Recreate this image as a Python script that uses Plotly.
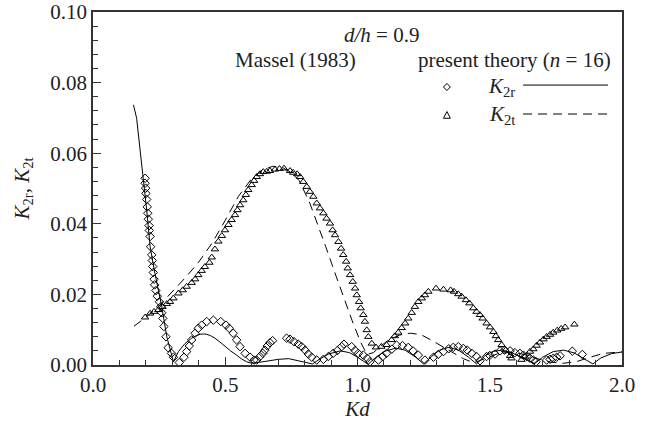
import plotly.graph_objects as go

# ---- Massel (1983) K2r (diamonds) ----
massel_r_kd = [0.197, 0.197, 0.199, 0.200, 0.203, 0.205, 0.207, 0.209, 0.212, 0.213, 0.216, 0.218,
               0.222, 0.224, 0.226, 0.228, 0.231, 0.233, 0.238, 0.243, 0.251, 0.256, 0.260, 0.264,
               0.268, 0.276, 0.284, 0.297, 0.304, 0.326, 0.344, 0.354, 0.364, 0.373, 0.386, 0.398,
               0.411, 0.430, 0.455, 0.483, 0.503, 0.515, 0.530, 0.543, 0.556, 0.575, 0.594, 0.609,
               0.619, 0.631, 0.642, 0.650, 0.659, 0.669, 0.679, 0.732, 0.745, 0.760, 0.776, 0.789,
               0.802, 0.814, 0.827, 0.846, 0.871, 0.890, 0.908, 0.924, 0.940, 0.949, 0.978, 0.991,
               1.003, 1.022, 1.037, 1.047, 1.079, 1.095, 1.110, 1.130, 1.148, 1.170, 1.192, 1.210,
               1.230, 1.255, 1.287, 1.305, 1.325, 1.345, 1.362, 1.381, 1.400, 1.415, 1.432, 1.450,
               1.463, 1.488, 1.500, 1.520, 1.539, 1.556, 1.577, 1.595, 1.614, 1.627, 1.640, 1.652,
               1.665, 1.675, 1.715, 1.728, 1.740, 1.753, 1.766, 1.812, 1.850]
massel_r_k = [0.0529, 0.0515, 0.0501, 0.0486, 0.0469, 0.0448, 0.0430, 0.0413, 0.0395, 0.0381, 0.0364, 0.0335,
              0.0312, 0.0296, 0.0279, 0.0262, 0.0243, 0.0227, 0.0211, 0.0195, 0.0179, 0.0165, 0.0148, 0.0132,
              0.0109, 0.0080, 0.0049, 0.0033, 0.0022, 0.0007, 0.0022, 0.0038, 0.0054, 0.0071, 0.0090, 0.0104,
              0.0113, 0.0123, 0.0127, 0.0123, 0.0113, 0.0104, 0.0090, 0.0071, 0.0052, 0.0033, 0.0022, 0.0014,
              0.0014, 0.0024, 0.0033, 0.0042, 0.0054, 0.0063, 0.0069, 0.0076, 0.0073, 0.0066, 0.0059, 0.0052,
              0.0042, 0.0031, 0.0022, 0.0014, 0.0016, 0.0024, 0.0033, 0.0041, 0.0052, 0.0059, 0.0052, 0.0041,
              0.0033, 0.0028, 0.0019, 0.0009, 0.0014, 0.0024, 0.0033, 0.0045, 0.0056, 0.0055, 0.0050, 0.0040,
              0.0028, 0.0014, 0.0022, 0.0030, 0.0038, 0.0046, 0.0050, 0.0052, 0.0047, 0.0042, 0.0033, 0.0024,
              0.0012, 0.0024, 0.0027, 0.0031, 0.0040, 0.0042, 0.0040, 0.0035, 0.0033, 0.0028, 0.0024, 0.0019,
              0.0014, 0.0009, 0.0014, 0.0016, 0.0019, 0.0022, 0.0026, 0.0039, 0.0030]

# ---- Massel (1983) K2t (triangles) ----
massel_t_kd = [0.197, 0.216, 0.231, 0.247, 0.263, 0.279, 0.291, 0.304, 0.323, 0.339, 0.354, 0.373,
               0.386, 0.398, 0.411, 0.423, 0.440, 0.449, 0.461, 0.474, 0.487, 0.499, 0.512, 0.524,
               0.537, 0.546, 0.556, 0.568, 0.578, 0.587, 0.600, 0.609, 0.619, 0.631, 0.644, 0.657,
               0.669, 0.688, 0.705, 0.722, 0.745, 0.757, 0.772, 0.783, 0.795, 0.808, 0.820, 0.833,
               0.846, 0.858, 0.871, 0.883, 0.896, 0.906, 0.915, 0.928, 0.938, 0.946, 0.957, 0.963,
               0.972, 0.982, 0.991, 0.997, 1.006, 1.012, 1.022, 1.028, 1.035, 1.041, 1.054, 1.070,
               1.090, 1.110, 1.129, 1.141, 1.154, 1.167, 1.180, 1.192, 1.205, 1.217, 1.230, 1.243,
               1.255, 1.268, 1.297, 1.325, 1.352, 1.365, 1.381, 1.394, 1.410, 1.423, 1.438, 1.450,
               1.463, 1.473, 1.488, 1.501, 1.514, 1.523, 1.532, 1.545, 1.560, 1.577, 1.582, 1.620,
               1.633, 1.652, 1.665, 1.677, 1.690, 1.703, 1.715, 1.728, 1.740, 1.755, 1.770, 1.785, 1.820]
massel_t_k = [0.0135, 0.0146, 0.0151, 0.0156, 0.0165, 0.0173, 0.0179, 0.0189, 0.0203, 0.0212, 0.0222, 0.0233,
              0.0243, 0.0255, 0.0267, 0.0278, 0.0290, 0.0305, 0.0328, 0.0350, 0.0366, 0.0382, 0.0397, 0.0411,
              0.0425, 0.0439, 0.0453, 0.0467, 0.0482, 0.0496, 0.0510, 0.0522, 0.0533, 0.0541, 0.0547, 0.0548,
              0.0550, 0.0554, 0.0556, 0.0557, 0.0550, 0.0545, 0.0541, 0.0533, 0.0519, 0.0505, 0.0491, 0.0477,
              0.0458, 0.0444, 0.0430, 0.0415, 0.0401, 0.0382, 0.0368, 0.0349, 0.0330, 0.0312, 0.0293, 0.0274,
              0.0255, 0.0236, 0.0217, 0.0198, 0.0179, 0.0161, 0.0142, 0.0123, 0.0099, 0.0080, 0.0061, 0.0050,
              0.0052, 0.0057, 0.0071, 0.0082, 0.0092, 0.0105, 0.0118, 0.0132, 0.0148, 0.0165, 0.0179, 0.0189,
              0.0198, 0.0208, 0.0217, 0.0214, 0.0212, 0.0208, 0.0201, 0.0194, 0.0184, 0.0175, 0.0161, 0.0151,
              0.0142, 0.0132, 0.0118, 0.0107, 0.0094, 0.0082, 0.0071, 0.0057, 0.0042, 0.0026, 0.0019, 0.0015,
              0.0024, 0.0038, 0.0045, 0.0055, 0.0064, 0.0073, 0.0080, 0.0086, 0.0092, 0.0098, 0.0103, 0.0107, 0.0115]

# ---- present theory (n = 16) K2r (solid) ----
theory_r_kd = [0.153, 0.165, 0.178, 0.190, 0.203, 0.216, 0.234, 0.260, 0.279, 0.304, 0.315, 0.323,
               0.348, 0.373, 0.390, 0.405, 0.418, 0.430, 0.445, 0.461, 0.480, 0.499, 0.520, 0.543,
               0.560, 0.581, 0.600, 0.650, 0.700, 0.740, 0.780, 0.830, 0.860, 0.890, 0.935, 0.970,
               1.000, 1.040, 1.070, 1.100, 1.145, 1.180, 1.220, 1.250, 1.280, 1.310, 1.345, 1.380,
               1.420, 1.450, 1.480, 1.510, 1.545, 1.580, 1.630, 1.670, 1.700, 1.740, 1.780, 1.820,
               1.860, 1.890, 1.920, 1.960, 2.000]
theory_r_k = [0.0737, 0.0699, 0.0609, 0.0533, 0.0439, 0.0335, 0.0260, 0.0165, 0.0080, 0.0009, 0.0025, 0.0038,
              0.0061, 0.0076, 0.0083, 0.0087, 0.0088, 0.0087, 0.0083, 0.0076, 0.0065, 0.0052, 0.0040, 0.0028,
              0.0018, 0.0009, 0.0005, 0.0010, 0.0016, 0.0018, 0.0012, 0.0003, 0.0018, 0.0031, 0.0040, 0.0035,
              0.0022, 0.0002, 0.0022, 0.0038, 0.0048, 0.0042, 0.0022, 0.0003, 0.0024, 0.0042, 0.0050, 0.0043,
              0.0022, 0.0003, 0.0025, 0.0038, 0.0042, 0.0036, 0.0018, 0.0004, 0.0022, 0.0038, 0.0042, 0.0034,
              0.0016, 0.0003, 0.0020, 0.0032, 0.0037]

# ---- present theory (n = 16) K2t (dashed) ----
theory_t_kd = [0.155, 0.200, 0.250, 0.300, 0.350, 0.400, 0.450, 0.500, 0.550, 0.600, 0.640, 0.680,
               0.720, 0.750, 0.780, 0.820, 0.850, 0.880, 0.920, 0.950, 0.980, 1.010, 1.035, 1.060,
               1.090, 1.120, 1.160, 1.200, 1.240, 1.280, 1.320, 1.360, 1.400, 1.440, 1.480, 1.530,
               1.580, 1.630, 1.680, 1.730, 1.780, 1.830, 1.880, 1.930, 2.000]
theory_t_k = [0.0110, 0.0135, 0.0168, 0.0208, 0.0248, 0.0292, 0.0345, 0.0410, 0.0478, 0.0528, 0.0553, 0.0563,
              0.0558, 0.0545, 0.0522, 0.0458, 0.0398, 0.0335, 0.0250, 0.0185, 0.0125, 0.0068, 0.0030, 0.0035,
              0.0055, 0.0072, 0.0085, 0.0090, 0.0086, 0.0070, 0.0052, 0.0035, 0.0018, 0.0006, 0.0018, 0.0032,
              0.0036, 0.0030, 0.0018, 0.0008, 0.0005, 0.0010, 0.0022, 0.0033, 0.0037]

FONT = "Liberation Serif"
FS = 21

fig = go.Figure()
fig.add_trace(go.Scatter(x=theory_r_kd, y=theory_r_k, mode="lines",
                         line=dict(color="black", width=1), showlegend=False))
fig.add_trace(go.Scatter(x=theory_t_kd, y=theory_t_k, mode="lines",
                         line=dict(color="black", width=1, dash="9px,6px"), showlegend=False))
fig.add_trace(go.Scatter(x=massel_r_kd, y=massel_r_k, mode="markers",
                         marker=dict(symbol="diamond-open", size=6.5, color="black",
                                     line=dict(width=1, color="black")), showlegend=False))
fig.add_trace(go.Scatter(x=massel_t_kd, y=massel_t_k, mode="markers",
                         marker=dict(symbol="triangle-up-open", size=6.5, color="black",
                                     line=dict(width=1, color="black")), showlegend=False))

axis_common = dict(showline=True, linecolor="#333", linewidth=1.5, mirror=True,
                   ticks="inside", ticklen=8, tickcolor="#333", tickwidth=1.2,
                   showgrid=False, zeroline=False, automargin=False,
                   tickfont=dict(family=FONT, size=FS, color="#222"))

fig.update_xaxes(range=[0, 2], dtick=0.5, tick0=0, tickformat=".1f",
                 minor=dict(dtick=0.1, ticks="inside", ticklen=5, tickcolor="#333"),
                 title=dict(text="<i>Kd</i>", font=dict(family=FONT, size=FS, color="#222"), standoff=4),
                 **axis_common)
fig.update_yaxes(range=[0, 0.1], dtick=0.02, tick0=0, tickformat=".2f",
                 minor=dict(dtick=0.004, ticks="inside", ticklen=5, tickcolor="#333"),
                 title=dict(text="<i>K</i><sub>2r</sub>, <i>K</i><sub>2t</sub>",
                            font=dict(family=FONT, size=FS, color="#222"), standoff=15),
                 **axis_common)

tf = dict(family=FONT, size=FS, color="#222")
annos = [
    dict(x=0.545, y=0.935, text="<i>d/h</i> = 0.9"),
    dict(x=0.382, y=0.864, text="Massel (1983)"),
    dict(x=0.796, y=0.864, text="present theory (<i>n</i> = 16)"),
    dict(x=0.773, y=0.788, text="<i>K</i><sub>2r</sub>"),
    dict(x=0.773, y=0.708, text="<i>K</i><sub>2t</sub>"),
]
for a in annos:
    fig.add_annotation(xref="paper", yref="paper", x=a["x"], y=a["y"], text=a["text"],
                       showarrow=False, font=tf, xanchor="center", yanchor="middle")

# legend keys (paper coordinates)
cx, dx = 0.669, 0.0065
cy_r, dy = 0.7875, 0.010
cy_t = 0.708
fig.add_shape(type="path", xref="paper", yref="paper",
              path=f"M {cx-dx} {cy_r} L {cx} {cy_r+dy} L {cx+dx} {cy_r} L {cx} {cy_r-dy} Z",
              line=dict(color="black", width=1))
fig.add_shape(type="path", xref="paper", yref="paper",
              path=f"M {cx-dx} {cy_t-0.009} L {cx} {cy_t+0.010} L {cx+dx} {cy_t-0.009} Z",
              line=dict(color="black", width=1))
fig.add_shape(type="line", xref="paper", yref="paper", x0=0.813, x1=0.9735, y0=0.793, y1=0.793,
              line=dict(color="black", width=1))
fig.add_shape(type="line", xref="paper", yref="paper", x0=0.813, x1=0.9735, y0=0.711, y1=0.711,
              line=dict(color="black", width=1, dash="9px,6px"))

fig.update_layout(width=659, height=428, margin=dict(l=93, r=37, t=12, b=63),
                  paper_bgcolor="white", plot_bgcolor="white",
                  font=dict(family=FONT, size=FS, color="#222"))

fig.write_html("out.html")
